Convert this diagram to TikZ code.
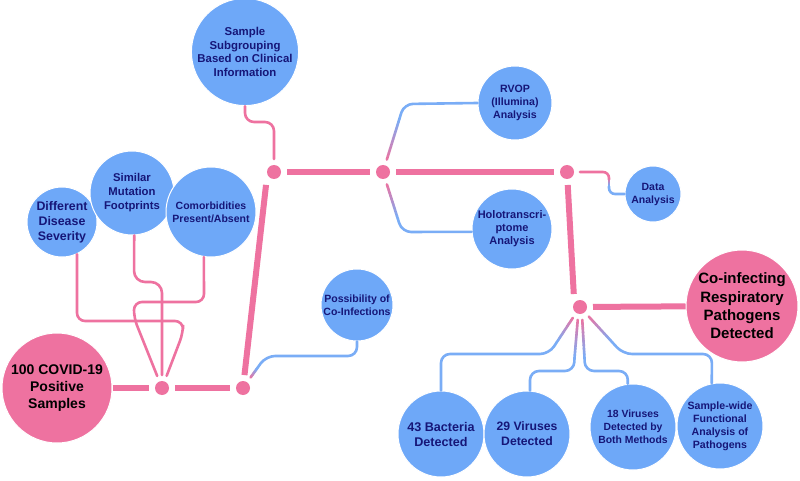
\documentclass[tikz,border=0pt]{standalone}
\usepackage{fontspec}
\setmainfont{Liberation Sans}
\usetikzlibrary{calc}

\definecolor{bubble}{RGB}{110,168,248}
\definecolor{rose}{RGB}{238,114,160}
\definecolor{navy}{RGB}{22,22,120}
\definecolor{twigblue}{RGB}{122,173,246}

\tikzset{
  blob/.style={circle, fill=bubble, draw=white, line width=1pt, text=navy, align=center, inner sep=0pt},
  bigblob/.style={circle, fill=rose, draw=white, line width=1pt, text=black, align=center, inner sep=0pt},
  hub/.style={circle, fill=rose, minimum size=14pt, inner sep=0pt, outer sep=6pt},
  trunk/.style={draw=rose, line width=6pt},
  twig/.style={line width=2.6pt, line cap=round, rounded corners=9pt},
}

\newcommand{\fz}[2]{\bfseries\fontsize{#1}{#2}\selectfont}

\newcommand{\blend}[2]{%
  \foreach \k in {1,...,12}
  {
    \pgfmathsetmacro{\ta}{(\k-1)/12}
    \pgfmathsetmacro{\tb}{\k/12}
    \pgfmathtruncatemacro{\mixp}{100-(\k-0.5)*100/12}
    \draw[twig, draw=rose!\mixp!twigblue] ($(#1)!\ta!(#2)$) -- ($(#1)!\tb!(#2)$);
  }}

\begin{document}
\begin{tikzpicture}[x=1pt, y=-1pt]

\fill[white] (0,0) rectangle (800,481);
\useasboundingbox (0,0) rectangle (800,481);

\node[bigblob, minimum size=110pt, font={\fz{14}{17}}] (covid) at (57,388) {100 COVID-19\\Positive\\Samples};
\node[bigblob, minimum size=112pt, font={\fz{15}{18.3}}] (coinf) at (742,306) {Co-infecting\\Respiratory\\Pathogens\\Detected};

\node[blob, minimum size=102pt, font={\fz{11.4}{13.8}}] (subgr) at (245,52) {Sample\\Subgrouping\\Based on Clinical\\Information};
\node[blob, minimum size=70pt, font={\fz{12.4}{15}}] (sever) at (62,222) {Different\\Disease\\Severity};
\node[blob, minimum size=84pt, font={\fz{11.3}{14}}] (mutat) at (132,193) {Similar\\Mutation\\Footprints};
\node[blob, minimum size=90pt, font={\fz{10.5}{13}}] (comorb) at (211,212) {Comorbidities\\Present/Absent};
\node[blob, minimum size=74pt, font={\fz{10.6}{13}}] (rvop) at (515,103) {RVOP\\(Illumina)\\Analysis};
\node[blob, minimum size=80pt, font={\fz{11}{13}}] (holo) at (512,229) {Holotranscri-\\ptome\\Analysis};
\node[blob, minimum size=56pt, font={\fz{10.5}{13}}] (data) at (653,194) {Data\\Analysis};
\node[blob, minimum size=72pt, font={\fz{10.5}{13}}] (poss) at (357,305) {Possibility of\\Co-Infections};

\node[blob, minimum size=86pt, font={\fz{12.6}{15}}] (bact) at (441,434) {43 Bacteria\\Detected};
\node[blob, minimum size=86pt, font={\fz{12.2}{15}}] (vir) at (527,434) {29 Viruses\\Detected};
\node[blob, minimum size=86pt, font={\fz{10.4}{13}}] (both) at (633,427) {18 Viruses\\Detected by\\Both Methods};
\node[blob, minimum size=86pt, font={\fz{10.6}{13}}] (func) at (720,426) {Sample-wide\\Functional\\Analysis of\\Pathogens};

\node[hub] (d1) at (162,388) {};
\node[hub] (d2) at (243,388) {};
\node[hub] (d3) at (274,172) {};
\node[hub] (d4) at (383,172) {};
\node[hub] (d5) at (567,172) {};
\node[hub] (d6) at (580,307) {};

\draw[trunk] (covid) -- (d1);
\draw[trunk] (d1) -- (d2);
\draw[trunk, shorten >=13pt] (d2) -- ([xshift=-6.5pt]d3.center);
\draw[trunk] (d3) -- (d4);
\draw[trunk] (d4) -- (d5);
\draw[trunk, shorten >=13pt] (d5) -- ([xshift=-5.5pt]d6.center);
\draw[trunk] (d6) -- (coinf);

\draw[twig, draw=rose] (subgr.south) -- (245,122) -- (274,122) -- (d3);
\draw[twig, draw=rose, rounded corners=8pt] (sever.-65) -- (77,321) -- (183,321) -- (183,333) -- (d1);
\draw[twig, draw=rose, rounded corners=11pt] (mutat.-87) -- (134,282) -- (162,282) -- (d1);
\draw[twig, draw=rose, rounded corners=8pt] (comorb.-99) -- (204,302) -- (134,302) -- (134,318) -- (d1);

\coordinate (rvbend) at (404,104);
\coordinate (rvs) at ($(d4)!13pt!(rvbend)$);
\coordinate (rve) at ($(d4)!0.78!(rvbend)$);
\blend{rvs}{rve}
\draw[twig, draw=twigblue] (rve) -- (rvbend) -- (rvop.west);

\coordinate (hobend) at (402,232);
\coordinate (hos) at ($(d4)!13pt!(hobend)$);
\coordinate (hoe) at ($(d4)!0.78!(hobend)$);
\blend{hos}{hoe}
\draw[twig, draw=twigblue] (hoe) -- (hobend) -- (holo.184);

\coordinate (dtop) at (609,172);
\coordinate (ds) at (609,179.5);
\coordinate (de) at (609,186.5);
\draw[twig, draw=rose, rounded corners=6pt] (d5) -- (dtop) -- (ds);
\blend{ds}{de}
\draw[twig, draw=twigblue, rounded corners=6pt] (de) -- (609,194) -- (data.west);

\coordinate (pobend) at (266,356);
\coordinate (pos) at ($(d2)!13pt!(pobend)$);
\coordinate (poe) at ($(d2)!0.62!(pobend)$);
\blend{pos}{poe}
\draw[twig, draw=twigblue] (poe) -- (pobend) -- (357,356) -- (poss.south);

\coordinate (babend) at (549,354);
\coordinate (bas) at ($(d6)!13pt!(babend)$);
\coordinate (bae) at ($(d6)!0.75!(babend)$);
\blend{bas}{bae}
\draw[twig, draw=twigblue] (bae) -- (babend) -- (441,354) -- (bact.north);

\coordinate (vie) at (574.5,358);
\blend{d6.-100}{vie}
\draw[twig, draw=twigblue] (vie) -- (574,371) -- (530,371) -- (vir.86);

\coordinate (boe) at (584.5,358);
\blend{d6.-80}{boe}
\draw[twig, draw=twigblue] (boe) -- (585,371) -- (628,371) -- (both.97);

\coordinate (fubend) at (623,354);
\coordinate (fus) at ($(d6)!13pt!(fubend)$);
\coordinate (fue) at ($(d6)!0.75!(fubend)$);
\blend{fus}{fue}
\draw[twig, draw=twigblue] (fue) -- (fubend) -- (712,354) -- (func.101);

\end{tikzpicture}
\end{document}
